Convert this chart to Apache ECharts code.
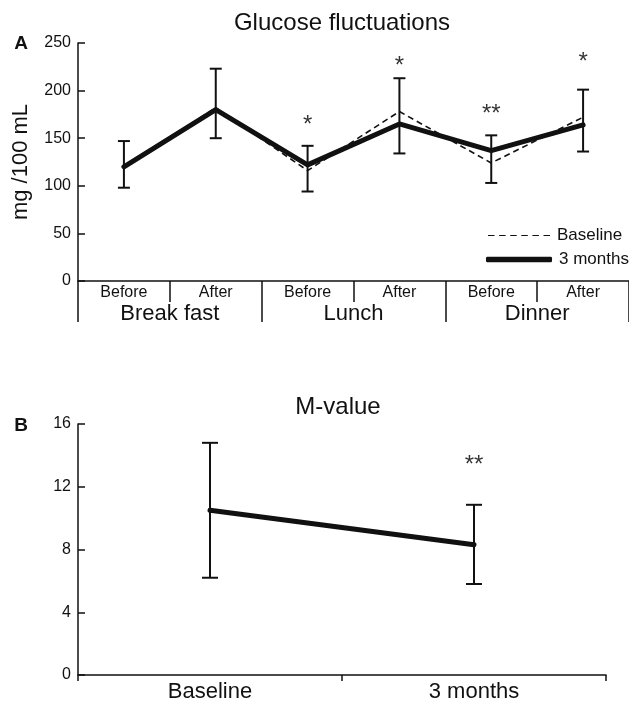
<!DOCTYPE html>
<html>
<head>
<meta charset="utf-8">
<script src="https://cdn.jsdelivr.net/npm/echarts@6/dist/echarts.min.js"></script>
<style>
  html, body { margin: 0; padding: 0; background: #fff; }
  #main { width: 629px; height: 703px; }
</style>
</head>
<body>
<div id="main"></div>
<script>
// panel A: glucose fluctuations
var timeLabels = ['Before', 'After', 'Before', 'After', 'Before', 'After'];
var mealLabels = ['Break fast', 'Lunch', 'Dinner'];
var glucoseBaseline = [119, 182, 116, 178, 124, 172];
var glucose3Months = [120, 180, 122, 165, 137, 164];
var glucoseErrLow = [98, 150, 94, 134, 103, 136];
var glucoseErrHigh = [147, 223, 142, 213, 153, 201];
var glucoseSig = ['', '', '*', '*', '**', '*'];
var glucoseSigLevel = [null, null, 163, 225, 175, 230];
var glucoseTicks = [0, 50, 100, 150, 200, 250];

// panel B: M-value
var mLabels = ['Baseline', '3 months'];
var mValue = [10.5, 8.3];
var mErrLow = [6.2, 5.8];
var mErrHigh = [14.8, 10.85];
var mSig = ['', '**'];
var mSigLevel = [null, 13.35];
var mTicks = [0, 4, 8, 12, 16];

var FONT = 'Liberation Sans';
var INK = '#111';

var chart = echarts.init(document.getElementById('main'));

// error bar with caps
function errorBar(capHalf) {
  return function (params, api) {
    var lo = api.coord([api.value(0), api.value(1)]);
    var hi = api.coord([api.value(0), api.value(2)]);
    var style = { stroke: INK, lineWidth: 2, fill: null };
    return {
      type: 'group',
      children: [
        { type: 'line', shape: { x1: hi[0], y1: hi[1], x2: lo[0], y2: lo[1] }, style: style },
        { type: 'line', shape: { x1: hi[0] - capHalf, y1: hi[1], x2: hi[0] + capHalf, y2: hi[1] }, style: style },
        { type: 'line', shape: { x1: lo[0] - capHalf, y1: lo[1], x2: lo[0] + capHalf, y2: lo[1] }, style: style }
      ]
    };
  };
}

function errData(low, high) {
  return low.map(function (v, i) { return [i, v, high[i]]; });
}

function sigData(marks, levels) {
  var out = [];
  marks.forEach(function (m, i) {
    if (m) out.push([i, levels[i], m]);
  });
  return out;
}

var sigLabel = {
  show: true,
  position: 'inside',
  color: '#000',
  fontFamily: FONT,
  fontSize: 24,
  formatter: function (p) { return p.value[2]; }
};

function titleText(text, x, y, size, weight) {
  return {
    text: text, left: x, top: y, textAlign: 'center', padding: 0,
    textStyle: { fontFamily: FONT, fontSize: size, fontWeight: weight, color: INK }
  };
}

// dashed legend icon: 6 dashes across the item
var dashIcon = 'path://M0 0h6.5v1h-6.5zM11.1 0h6.5v1h-6.5zM22.2 0h6.5v1h-6.5zM33.3 0h6.5v1h-6.5zM44.4 0h6.5v1h-6.5zM55.5 0h6.5v1h-6.5z';

var legendBase = {
  orient: 'vertical',
  itemGap: 0,
  padding: 0,
  textStyle: { fontFamily: FONT, fontSize: 17, color: INK, padding: [0, 0, 0, 2] }
};

var option = {
  animation: false,
  backgroundColor: '#fff',
  textStyle: { fontFamily: FONT, color: INK },
  title: [
    titleText('Glucose fluctuations', 342, 11, 24, 'normal'),
    titleText('A', 21, 34, 19, 'bold'),
    titleText('M-value', 338, 395, 24, 'normal'),
    titleText('B', 21, 416, 19, 'bold')
  ],
  legend: [
    Object.assign({}, legendBase, {
      left: 488, top: 227, itemWidth: 62, itemHeight: 1.6,
      data: [{ name: 'Baseline', icon: dashIcon, itemStyle: { color: INK } }]
    }),
    Object.assign({}, legendBase, {
      left: 486, top: 251, itemWidth: 66, itemHeight: 5.5,
      data: [{ name: '3 months', icon: 'roundRect', itemStyle: { color: INK } }]
    })
  ],
  grid: [
    { left: 78, top: 43, width: 553, height: 238 },
    { left: 78, top: 424, width: 528, height: 254 }
  ],
  xAxis: [
    {
      gridIndex: 0, type: 'category', data: timeLabels, boundaryGap: true,
      axisLine: { lineStyle: { color: INK, width: 1.5 } },
      axisTick: { show: true, length: 21, alignWithLabel: false, interval: 0, lineStyle: { color: INK, width: 1.5 } },
      axisLabel: { interval: 0, margin: 4, fontSize: 16, color: INK, fontFamily: FONT }
    },
    {
      gridIndex: 0, type: 'category', data: mealLabels, boundaryGap: true, position: 'bottom',
      axisLine: { show: false },
      axisTick: { show: true, length: 41, alignWithLabel: false, interval: 0, lineStyle: { color: INK, width: 1.5 } },
      axisLabel: { interval: 0, margin: 22, fontSize: 22, color: INK, fontFamily: FONT }
    },
    {
      gridIndex: 1, type: 'category', data: mLabels, boundaryGap: true,
      axisLine: { lineStyle: { color: INK, width: 1.5 } },
      axisTick: { show: true, length: 6, alignWithLabel: false, interval: 0, lineStyle: { color: INK, width: 1.5 } },
      axisLabel: { interval: 0, margin: 6, fontSize: 22, color: INK, fontFamily: FONT }
    }
  ],
  yAxis: [
    {
      gridIndex: 0, type: 'value',
      min: glucoseTicks[0], max: glucoseTicks[glucoseTicks.length - 1], interval: 50,
      name: 'mg /100 mL', nameLocation: 'middle', nameRotate: 90, nameGap: 46,
      nameTextStyle: { fontFamily: FONT, fontSize: 22, color: INK },
      splitLine: { show: false },
      axisLine: { show: true, lineStyle: { color: INK, width: 1.5 } },
      axisTick: { show: true, inside: true, length: 7, lineStyle: { color: INK, width: 1.5 } },
      axisLabel: { margin: 7, fontSize: 16, color: INK, fontFamily: FONT }
    },
    {
      gridIndex: 1, type: 'value',
      min: mTicks[0], max: mTicks[mTicks.length - 1], interval: 4,
      splitLine: { show: false },
      axisLine: { show: true, lineStyle: { color: INK, width: 1.5 } },
      axisTick: { show: true, inside: true, length: 7, lineStyle: { color: INK, width: 1.5 } },
      axisLabel: { margin: 7, fontSize: 16, color: INK, fontFamily: FONT }
    }
  ],
  series: [
    {
      type: 'custom', name: 'errA', xAxisIndex: 0, yAxisIndex: 0,
      renderItem: errorBar(6), encode: { x: 0, y: [1, 2] },
      data: errData(glucoseErrLow, glucoseErrHigh), z: 1
    },
    {
      type: 'line', name: 'Baseline', xAxisIndex: 0, yAxisIndex: 0,
      data: glucoseBaseline, symbol: 'none', z: 2,
      lineStyle: { color: INK, width: 1.6, type: [6, 4] }, itemStyle: { color: INK }
    },
    {
      type: 'line', name: '3 months', xAxisIndex: 0, yAxisIndex: 0,
      data: glucose3Months, symbol: 'none', z: 3,
      lineStyle: { color: INK, width: 5, cap: 'round', join: 'round' }, itemStyle: { color: INK }
    },
    {
      type: 'scatter', name: 'sigA', xAxisIndex: 0, yAxisIndex: 0,
      data: sigData(glucoseSig, glucoseSigLevel), symbolSize: 0, label: sigLabel
    },
    {
      type: 'custom', name: 'errB', xAxisIndex: 2, yAxisIndex: 1,
      renderItem: errorBar(8), encode: { x: 0, y: [1, 2] },
      data: errData(mErrLow, mErrHigh), z: 1
    },
    {
      type: 'line', name: 'M-value', xAxisIndex: 2, yAxisIndex: 1,
      data: mValue, symbol: 'none', z: 3,
      lineStyle: { color: INK, width: 5, cap: 'round', join: 'round' }, itemStyle: { color: INK }
    },
    {
      type: 'scatter', name: 'sigB', xAxisIndex: 2, yAxisIndex: 1,
      data: sigData(mSig, mSigLevel), symbolSize: 0, label: sigLabel
    }
  ]
};

chart.setOption(option);
</script>
</body>
</html>
